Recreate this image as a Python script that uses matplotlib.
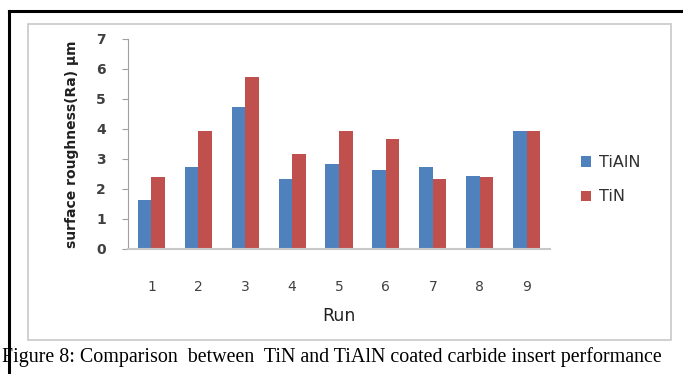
import matplotlib
matplotlib.use("Agg")
import matplotlib.pyplot as plt
from matplotlib.patches import Rectangle
from matplotlib.lines import Line2D
import numpy as np

runs = ["1", "2", "3", "4", "5", "6", "7", "8", "9"]
tialn = [1.65, 2.72, 4.75, 2.33, 2.85, 2.65, 2.75, 2.42, 3.93]
tin = [2.40, 3.93, 5.72, 3.17, 3.93, 3.68, 2.35, 2.40, 3.95]
series_names = ["TiAlN", "TiN"]
yticks = [0, 1, 2, 3, 4, 5, 6, 7]

fig = plt.figure(figsize=(6.83, 3.74), dpi=100)
fig.patch.set_facecolor("white")

# outer black frame (top and left lines)
fig.add_artist(Line2D([9/683, 9/683], [0, 1 - 11/374], color="black", lw=2.2, transform=fig.transFigure))
fig.add_artist(Line2D([9/683, 1], [1 - 11/374, 1 - 11/374], color="black", lw=2.2, transform=fig.transFigure))
# inner grey chart box
fig.add_artist(Rectangle((28/683, 1 - 340/374), (671 - 28)/683, (340 - 24)/374,
                         transform=fig.transFigure, fill=False, ec="#c8c8c8", lw=1.2))

ax = fig.add_axes([128/683, 1 - 249/374, (550 - 128)/683, (249 - 39)/374])
x = np.arange(1, len(runs) + 1)
w = 0.29
ax.bar(x - w/2, tialn, width=w, color="#4F81BD", label=series_names[0])
ax.bar(x + w/2, tin, width=w, color="#C0504D", label=series_names[1])
ax.set_xlim(0.5, 9.5)
ax.set_ylim(0, 7)
ax.set_yticks(yticks)
ax.set_xticks(x)
ax.set_xticklabels(runs)
for s in ["top", "right"]:
    ax.spines[s].set_visible(False)
ax.spines["left"].set_color("#a0a0a0")
ax.spines["bottom"].set_color("#c8c8c8")
ax.spines["bottom"].set_linewidth(1.5)
ax.tick_params(axis="y", length=4, color="#a0a0a0", labelsize=10, labelcolor="#404040", pad=12)
ax.tick_params(axis="x", length=0, labelsize=10, labelcolor="#404040", pad=22)
for t in ax.get_yticklabels():
    t.set_fontweight("bold")
ax.set_xlabel("Run", fontsize=12.5, color="#202020", labelpad=10)
ax.set_ylabel("surface roughness(Ra) µm", fontsize=10, fontweight="bold", color="#202020", labelpad=12)

leg = ax.legend(loc="center left", bbox_to_anchor=(1.04, 0.33), frameon=False, fontsize=11.5,
                handlelength=0.6, handleheight=0.6, handletextpad=0.5, labelspacing=1.2)
for t in leg.get_texts():
    t.set_color("#303030")

fig.text(2/683, 1 - 357/374, "Figure 8: Comparison  between  TiN and TiAlN coated carbide insert performance",
         family="Liberation Serif", fontsize=14.4, va="center", ha="left", color="black")

fig.savefig("out.png", dpi=100)
